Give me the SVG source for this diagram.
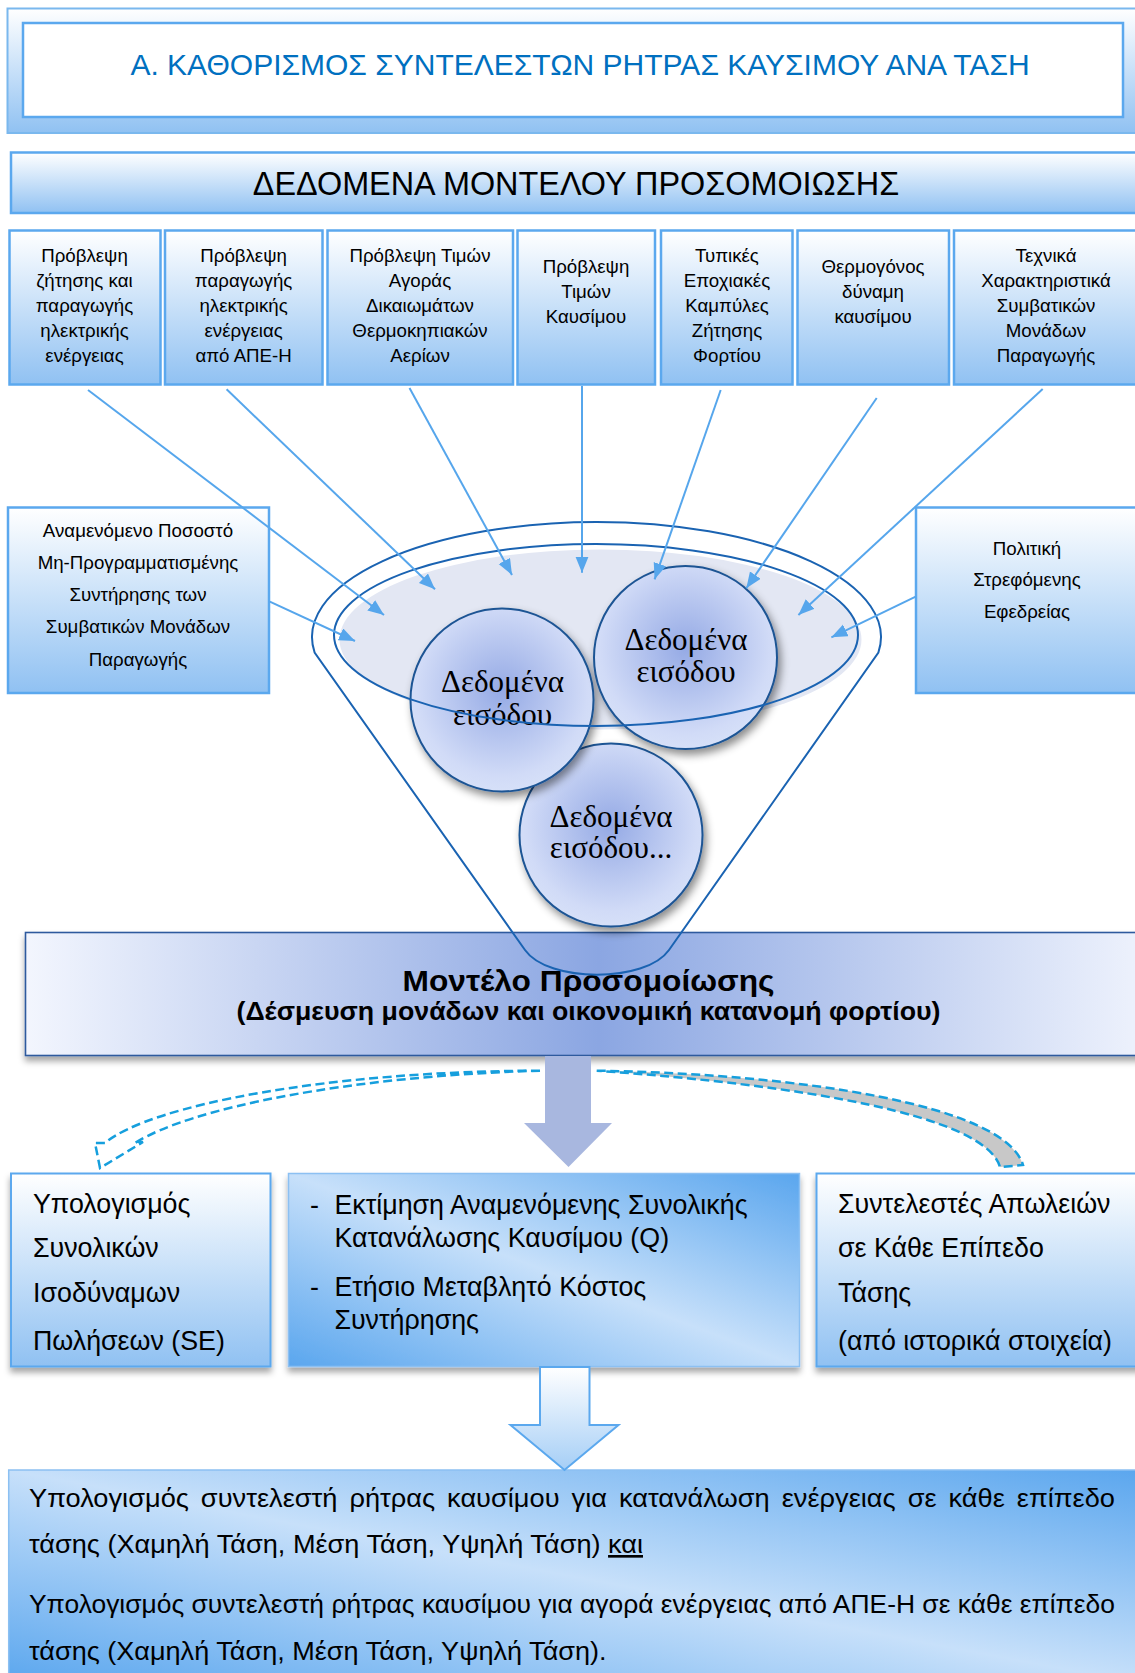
<svg xmlns="http://www.w3.org/2000/svg" width="1135" height="1673" viewBox="0 0 1135 1673">
<defs>
<style>
.sans{font-family:"Liberation Sans",Arial,sans-serif;}
.serif{font-family:"Liberation Serif","Times New Roman",serif;}
.box{fill:url(#gV);stroke:#5BA8EE;stroke-width:2.5;}
.t18{font-size:18.7px;fill:#000;text-anchor:middle;}
.t26{font-size:26.8px;fill:#000;}
.t25{font-size:26.5px;fill:#000;}
.circ{fill:url(#gR);stroke:#1D5494;stroke-width:2;filter:url(#shC);}
.ct{font-size:31px;fill:#000;text-anchor:middle;}
.conn{stroke:#56A6EC;stroke-width:2;fill:none;marker-end:url(#ah);}
.funnel{fill:none;stroke:#1A63B2;stroke-width:2;}
.dash{stroke:#169FDD;stroke-width:2.5;stroke-dasharray:9 4.5;}
</style>
<linearGradient id="gV" x1="0" y1="0" x2="0" y2="1">
<stop offset="0" stop-color="#FFFFFF"/>
<stop offset="1" stop-color="#90C1F2"/>
</linearGradient>
<linearGradient id="gH" x1="0" y1="0" x2="1" y2="0">
<stop offset="0" stop-color="#F3F6FE"/>
<stop offset="0.5" stop-color="#8BA6E2"/>
<stop offset="1" stop-color="#F3F6FE"/>
</linearGradient>
<linearGradient id="gD" x1="1" y1="0" x2="0" y2="1">
<stop offset="0" stop-color="#5AA6EE"/>
<stop offset="0.5" stop-color="#C7E0FA"/>
<stop offset="1" stop-color="#5AA6EE"/>
</linearGradient>
<linearGradient id="gArr" x1="0" y1="0" x2="0" y2="1">
<stop offset="0" stop-color="#FFFFFF"/>
<stop offset="1" stop-color="#A5CEF6"/>
</linearGradient>
<radialGradient id="gR" cx="0.5" cy="0.45" r="0.55">
<stop offset="0" stop-color="#95AAE5"/>
<stop offset="0.85" stop-color="#D1DBF7"/>
<stop offset="1" stop-color="#D6E0F8"/>
</radialGradient>
<filter id="shC" x="-20%" y="-20%" width="150%" height="150%">
<feDropShadow dx="3" dy="5" stdDeviation="4" flood-color="#000" flood-opacity="0.45"/>
</filter>
<filter id="shB" x="-5%" y="-10%" width="110%" height="130%">
<feDropShadow dx="0" dy="5" stdDeviation="3" flood-color="#000" flood-opacity="0.35"/>
</filter>
<marker id="ah" markerUnits="userSpaceOnUse" markerWidth="18" markerHeight="14" refX="16" refY="6.5" orient="auto">
<path d="M0,0 L16,6.5 L0,13 z" fill="#56A6EC"/>
</marker>
</defs>

<rect x="0" y="0" width="1135" height="1673" fill="#FFFFFF"/>

<g id="title">
<rect x="7.5" y="8.5" width="1140" height="124.5" fill="url(#gV)" stroke="#7AB8EE" stroke-width="2"/>
<rect x="23" y="23" width="1100" height="94" fill="#FFFFFF" stroke="#5BA8EE" stroke-width="2.5"/>
<text class="sans" x="580" y="75" font-size="30" fill="#0070C0" text-anchor="middle">Α. ΚΑΘΟΡΙΣΜΟΣ ΣΥΝΤΕΛΕΣΤΩΝ ΡΗΤΡΑΣ ΚΑΥΣΙΜΟΥ ΑΝΑ ΤΑΣΗ</text>
</g>

<g id="data-header">
<rect x="11" y="152.5" width="1135" height="60.5" class="box"/>
<text class="sans" x="576" y="194.5" font-size="32.4" fill="#000" text-anchor="middle">ΔΕΔΟΜΕΝΑ ΜΟΝΤΕΛΟΥ ΠΡΟΣΟΜΟΙΩΣΗΣ</text>
</g>

<g id="box1">
<rect x="9.5" y="230.5" width="151" height="154" class="box"/>
<text class="sans t18"><tspan x="84.5" y="261.5">Πρόβλεψη</tspan><tspan x="84.5" y="286.6">ζήτησης και</tspan><tspan x="84.5" y="311.7">παραγωγής</tspan><tspan x="84.5" y="336.8">ηλεκτρικής</tspan><tspan x="84.5" y="361.9">ενέργειας</tspan></text>
</g>
<g id="box2">
<rect x="165" y="230.5" width="157.5" height="154" class="box"/>
<text class="sans t18"><tspan x="243.6" y="261.5">Πρόβλεψη</tspan><tspan x="243.6" y="286.6">παραγωγής</tspan><tspan x="243.6" y="311.7">ηλεκτρικής</tspan><tspan x="243.6" y="336.8">ενέργειας</tspan><tspan x="243.6" y="361.9">από ΑΠΕ-Η</tspan></text>
</g>
<g id="box3">
<rect x="327.5" y="230.5" width="185.5" height="154" class="box"/>
<text class="sans t18"><tspan x="420" y="261.5">Πρόβλεψη Τιμών</tspan><tspan x="420" y="286.6">Αγοράς</tspan><tspan x="420" y="311.7">Δικαιωμάτων</tspan><tspan x="420" y="336.8">Θερμοκηπιακών</tspan><tspan x="420" y="361.9">Αερίων</tspan></text>
</g>
<g id="box4">
<rect x="517.5" y="230.5" width="137.5" height="154" class="box"/>
<text class="sans t18"><tspan x="586" y="273.3">Πρόβλεψη</tspan><tspan x="586" y="298.3">Τιμών</tspan><tspan x="586" y="323.3">Καυσίμου</tspan></text>
</g>
<g id="box5">
<rect x="661" y="230.5" width="131.5" height="154" class="box"/>
<text class="sans t18"><tspan x="727" y="261.5">Τυπικές</tspan><tspan x="727" y="286.6">Εποχιακές</tspan><tspan x="727" y="311.7">Καμπύλες</tspan><tspan x="727" y="336.8">Ζήτησης</tspan><tspan x="727" y="361.9">Φορτίου</tspan></text>
</g>
<g id="box6">
<rect x="797.5" y="230.5" width="151.5" height="154" class="box"/>
<text class="sans t18"><tspan x="873" y="273.3">Θερμογόνος</tspan><tspan x="873" y="298.3">δύναμη</tspan><tspan x="873" y="323.3">καυσίμου</tspan></text>
</g>
<g id="box7">
<rect x="954" y="230.5" width="184" height="154" class="box"/>
<text class="sans t18"><tspan x="1046" y="261.5">Τεχνικά</tspan><tspan x="1046" y="286.6">Χαρακτηριστικά</tspan><tspan x="1046" y="311.7">Συμβατικών</tspan><tspan x="1046" y="336.8">Μονάδων</tspan><tspan x="1046" y="361.9">Παραγωγής</tspan></text>
</g>

<g id="box-left">
<rect x="8" y="507.5" width="261" height="185.5" class="box"/>
<text class="sans t18"><tspan x="138" y="536.5">Αναμενόμενο Ποσοστό</tspan><tspan x="138" y="568.8">Μη-Προγραμματισμένης</tspan><tspan x="138" y="601.1">Συντήρησης των</tspan><tspan x="138" y="633.4">Συμβατικών Μονάδων</tspan><tspan x="138" y="665.7">Παραγωγής</tspan></text>
</g>
<g id="box-right">
<rect x="916" y="507.5" width="223" height="185.5" class="box"/>
<text class="sans t18"><tspan x="1027" y="554.5">Πολιτική</tspan><tspan x="1027" y="586.3">Στρεφόμενης</tspan><tspan x="1027" y="618">Εφεδρείας</tspan></text>
</g>

<g id="model">
<rect x="25.5" y="932.5" width="1145" height="123" fill="url(#gH)" stroke="#2F5A9E" stroke-width="1.6" filter="url(#shB)"/>
<text class="sans" x="588.5" y="990.7" font-size="30" font-weight="bold" fill="#000" text-anchor="middle" textLength="372" lengthAdjust="spacingAndGlyphs">Μοντέλο Προσομοίωσης</text>
<text class="sans" x="588.5" y="1020" font-size="25" font-weight="bold" fill="#000" text-anchor="middle" textLength="704" lengthAdjust="spacingAndGlyphs">(Δέσμευση μονάδων και οικονομική κατανομή φορτίου)</text>
</g>

<g id="funnel">
<path class="funnel" d="M525,950 L314.6,652.5 A284.5 115 0 1 1 878.4,652.5 L669,950 C646,983 548,983 525,950 Z"/>
<ellipse cx="600.5" cy="639.5" rx="261" ry="90" fill="#E3E7F3"/>
</g>

<g id="circle-c">
<circle class="circ" cx="611" cy="835" r="91.5"/>
<text class="serif ct"><tspan x="611" y="826.7">Δεδομένα</tspan><tspan x="611" y="858.3">εισόδου...</tspan></text>
</g>
<g id="circle-a">
<circle class="circ" cx="502" cy="700" r="91.5"/>
<text class="serif ct"><tspan x="502.5" y="691.7">Δεδομένα</tspan><tspan x="502.5" y="725">εισόδου</tspan></text>
</g>
<g id="circle-b">
<circle class="circ" cx="685.5" cy="657.5" r="91.5"/>
<text class="serif ct"><tspan x="686" y="650">Δεδομένα</tspan><tspan x="686" y="681.7">εισόδου</tspan></text>
</g>
<g id="funnel-rim">
<ellipse class="funnel" cx="596" cy="635" rx="262" ry="91"/>
</g>

<g id="box-se">
<rect x="11" y="1173.5" width="259.5" height="193" fill="url(#gV)" stroke="#5BA8EE" stroke-width="2" filter="url(#shB)"/>
<text class="sans t26"><tspan x="33" y="1213">Υπολογισμός</tspan><tspan x="33" y="1257">Συνολικών</tspan><tspan x="33" y="1302">Ισοδύναμων</tspan><tspan x="33" y="1350">Πωλήσεων (SE)</tspan></text>
</g>
<g id="box-q">
<rect x="288.5" y="1173.5" width="511" height="193" fill="url(#gD)" stroke="#8CC0F2" stroke-width="1.5" filter="url(#shB)"/>
<text class="sans t26"><tspan x="310" y="1214">-</tspan><tspan x="334.4" y="1214">Εκτίμηση Αναμενόμενης Συνολικής</tspan><tspan x="334.4" y="1247">Κατανάλωσης Καυσίμου (Q)</tspan><tspan x="310" y="1296">-</tspan><tspan x="334.4" y="1296">Ετήσιο Μεταβλητό Κόστος</tspan><tspan x="334.4" y="1329">Συντήρησης</tspan></text>
</g>
<g id="box-loss">
<rect x="816.5" y="1173.5" width="330" height="193" fill="url(#gV)" stroke="#5BA8EE" stroke-width="2" filter="url(#shB)"/>
<text class="sans t26"><tspan x="838" y="1213">Συντελεστές Απωλειών</tspan><tspan x="838" y="1257">σε Κάθε Επίπεδο</tspan><tspan x="838" y="1302">Τάσης</tspan><tspan x="838" y="1350">(από ιστορικά στοιχεία)</tspan></text>
</g>

<g id="box-result">
<rect x="8.7" y="1470" width="1140" height="215" fill="url(#gD)" stroke="#8CC0F2" stroke-width="1.5"/>
<text class="sans t25" x="29" y="1507" word-spacing="4.3" textLength="1086" lengthAdjust="spacingAndGlyphs">Υπολογισμός συντελεστή ρήτρας καυσίμου για κατανάλωση ενέργειας σε κάθε επίπεδο</text>
<text class="sans t25" x="29" y="1553" textLength="614" lengthAdjust="spacingAndGlyphs">τάσης (Χαμηλή Τάση, Μέση Τάση, Υψηλή Τάση) <tspan text-decoration="underline">και</tspan></text>
<text class="sans t25" x="29" y="1613" textLength="1086" lengthAdjust="spacingAndGlyphs">Υπολογισμός συντελεστή ρήτρας καυσίμου για αγορά ενέργειας από ΑΠΕ-Η σε κάθε επίπεδο</text>
<text class="sans t25" x="29" y="1660" textLength="577.6" lengthAdjust="spacingAndGlyphs">τάσης (Χαμηλή Τάση, Μέση Τάση, Υψηλή Τάση).</text>
</g>

<g id="connectors">
<line class="conn" x1="88" y1="390" x2="384" y2="615"/>
<line class="conn" x1="226.6" y1="389.3" x2="435" y2="589.3"/>
<line class="conn" x1="409.5" y1="388" x2="512" y2="575"/>
<line class="conn" x1="582" y1="386" x2="582" y2="572.7"/>
<line class="conn" x1="720.7" y1="390" x2="654.6" y2="579.3"/>
<line class="conn" x1="876.7" y1="398" x2="746.3" y2="588.3"/>
<line class="conn" x1="1042.7" y1="389" x2="798.4" y2="615"/>
<line class="conn" x1="269.8" y1="601.7" x2="355" y2="641"/>
<line class="conn" x1="915.7" y1="596.7" x2="831.4" y2="637.3"/>
<path d="M545,1056 L591,1056 L591,1123 L612,1123 L568.5,1167 L524,1123 L545,1123 Z" fill="#A8B7DF"/>
<path class="dash" fill="none" d="M540,1070.7 C330,1071 150,1105 105,1143 L95,1143 L100,1168 L143,1142 L135,1143 C190,1108 350,1076 540,1070.7 Z"/>
<path class="dash" fill="#C8C8C8" d="M596.7,1070.7 C800,1074 1005,1105 1023,1165 L1000,1167 C985,1115 800,1085 596.7,1070.7 Z"/>
<path d="M540,1367 L589.5,1367 L589.5,1425 L618.5,1425 L564.5,1470 L510.5,1425 L540,1425 Z" fill="url(#gArr)" stroke="#5BA8EE" stroke-width="2"/>
</g>
</svg>
